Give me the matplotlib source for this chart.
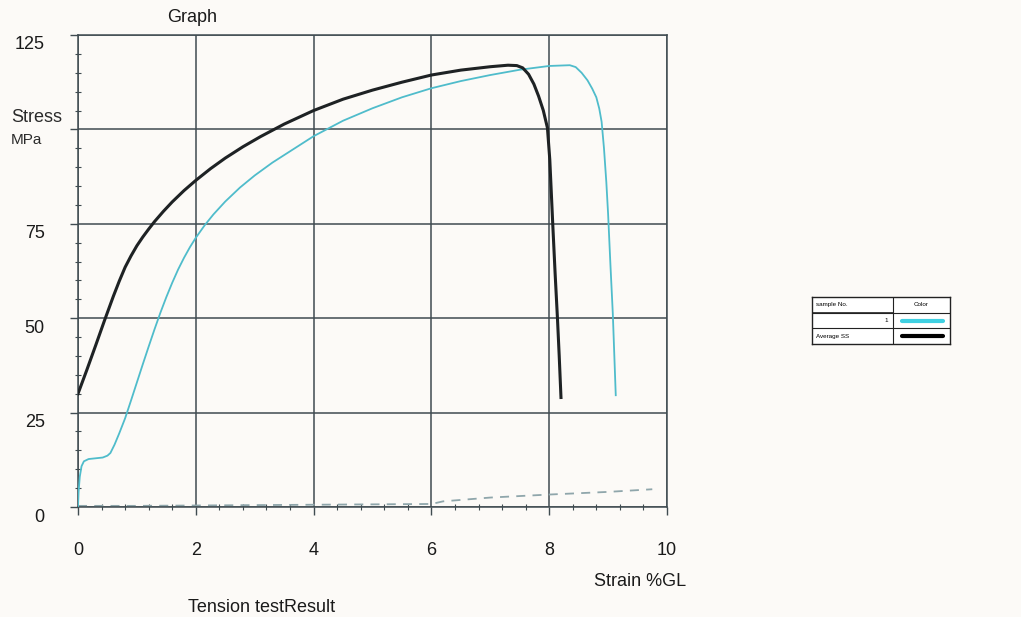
import matplotlib
matplotlib.use("Agg")
import matplotlib.pyplot as plt
from matplotlib.transforms import ScaledTranslation
import numpy as np

plt.rcParams['font.family'] = ['Liberation Sans', 'DejaVu Sans']

# ---- data ----
avg_strain = [0, 0.15, 0.3, 0.45, 0.6, 0.7, 0.8, 0.9, 1.0, 1.1, 1.2, 1.3, 1.45, 1.6,
              1.8, 2.0, 2.25, 2.5, 2.8, 3.1, 3.5, 4.0, 4.5, 5.0, 5.5, 6.0, 6.5, 7.0,
              7.3, 7.45, 7.55, 7.65, 7.74, 7.82, 7.9, 7.97, 8.01, 8.06, 8.1, 8.14,
              8.17, 8.2]
avg_stress = [30, 36.3, 42.8, 49.4, 55.8, 59.8, 63.5, 66.5, 69.2, 71.5, 73.6, 75.6,
              78.3, 80.8, 83.8, 86.5, 89.6, 92.4, 95.4, 98.1, 101.4, 105.0, 108.0,
              110.4, 112.5, 114.4, 115.7, 116.6, 117.0, 116.9, 116.3, 114.6, 112.0,
              108.8, 105.0, 100.4, 92, 75, 62, 50, 40, 29]

s1_strain = [0, 0.01, 0.03, 0.06, 0.1, 0.18, 0.3, 0.42, 0.5, 0.55, 0.62, 0.7, 0.8,
             0.9, 1.0, 1.1, 1.2, 1.3, 1.4, 1.5, 1.6, 1.7, 1.8, 1.9, 2.0, 2.15, 2.3,
             2.5, 2.75, 3.0, 3.3, 3.6, 4.0, 4.5, 5.0, 5.5, 6.0, 6.5, 7.0, 7.5, 8.0,
             8.35, 8.45, 8.55, 8.65, 8.73, 8.8, 8.85, 8.89, 8.93, 8.97, 9.0, 9.04,
             9.08, 9.13]
s1_stress = [0, 4, 8, 10.8, 12.1, 12.7, 12.9, 13.1, 13.6, 14.3, 16.5, 19.5, 23.5,
             28.2, 33.0, 37.8, 42.5, 47.1, 51.5, 55.6, 59.4, 62.9, 66.0, 68.8, 71.3,
             74.6, 77.5, 80.9, 84.6, 87.8, 91.2, 94.2, 98.2, 102.3, 105.6, 108.5,
             110.9, 112.8, 114.4, 115.8, 116.8, 117.0, 116.5, 115.0, 113.0, 110.8,
             108.5, 105.5, 102, 95, 86, 77.6, 64, 51.2, 29.6]

base_strain = [0, 1, 2, 3, 4, 5, 6.0, 6.2, 7.0, 8.0, 9.0, 9.75]
base_stress = [0.3, 0.3, 0.4, 0.5, 0.6, 0.7, 0.8, 1.5, 2.5, 3.3, 4.0, 4.7]

x_ticks = [0, 2, 4, 6, 8, 10]
x_labels = ['0', '2', '4', '6', '8', '10']
y_ticks = [0, 25, 50, 75, 100, 125]
y_labels = ['0', '25', '50', '75', '', '125']

legend_rows = [('sample No.', 'Color'), ('1', None), ('Average SS', None)]

# ---- style ----
BG = '#fcfaf7'
GRID = '#3f4b50'
CYAN = '#4fbccb'
BLACK = '#1e2224'
DASH = '#8fa6ab'

W, H = 1021, 617
fig = plt.figure(figsize=(W / 100, H / 100), dpi=100, facecolor=BG)

L, R, T, B = 78, 667, 35, 507
ax = fig.add_axes([L / W, 1 - B / H, (R - L) / W, (B - T) / H], facecolor=BG)

ax.plot(base_strain, base_stress, color=DASH, lw=1.3, ls=(0, (5, 4)), zorder=2)
ax.plot(s1_strain, s1_stress, color=CYAN, lw=1.3, zorder=3,
        solid_joinstyle='round')
ax.plot(avg_strain, avg_stress, color=BLACK, lw=2.2, zorder=4,
        solid_joinstyle='round')

ax.set_xlim(0, 10)
ax.set_ylim(0, 125)
ax.set_xticks(x_ticks)
ax.set_xticklabels(x_labels)
ax.set_yticks(y_ticks)
ax.set_yticklabels(y_labels)
ax.set_xticks(np.arange(0, 10.01, 0.4), minor=True)
ax.set_yticks(np.arange(0, 125.01, 5), minor=True)

ax.grid(True, which='major', color=GRID, lw=1.1)
for s in ax.spines.values():
    s.set_color(GRID)
    s.set_linewidth(1.1)

ax.tick_params(axis='both', which='major', direction='out', length=6, width=1.0,
               color=GRID, labelsize=13, labelcolor='#1a1a1a')
ax.tick_params(axis='y', which='major', pad=18)
ax.tick_params(axis='x', which='major', pad=19)
ax.tick_params(axis='both', which='minor', direction='inout', length=4, width=0.8,
               color=GRID)

off = ScaledTranslation(0, -8 / 72 * 0.72, fig.dpi_scale_trans)
for lab in ax.get_yticklabels():
    lab.set_transform(lab.get_transform() + off)

# ---- texts ----
fig.text(192 / W, 1 - 17 / H, 'Graph', ha='center', va='center', fontsize=13, color='#1a1a1a')
fig.text(11 / W, 1 - 117 / H, 'Stress', ha='left', va='center', fontsize=13, color='#2a2a2a')
fig.text(11 / W, 1 - 140 / H, 'MPa', ha='left', va='center', fontsize=11, color='#2a2a2a')
fig.text(640 / W, 1 - 581 / H, 'Strain %GL', ha='center', va='center', fontsize=13, color='#1a1a1a')
fig.text(262 / W, 1 - 607 / H, 'Tension testResult', ha='center', va='center', fontsize=13,
         color='#1a1a1a')

# ---- legend table ----
lx0, lx1, ly0, ly1 = 812, 950, 297, 344
lax = fig.add_axes([lx0 / W, 1 - ly1 / H, (lx1 - lx0) / W, (ly1 - ly0) / H], facecolor='white')
lax.set_xlim(0, 1)
lax.set_ylim(0, 3)
lax.set_xticks([])
lax.set_yticks([])
for s in lax.spines.values():
    s.set_color('#222222')
    s.set_linewidth(1.0)
lax.axhline(1, color='#222222', lw=0.8)
lax.axhline(2, color='#222222', lw=0.8)
lax.axvline(0.587, color='#222222', lw=0.8)
lax.axhline(2.0, xmin=0, xmax=0.587, color='#222222', lw=1.2)
lax.text(0.03, 2.5, legend_rows[0][0], ha='left', va='center', fontsize=4.5)
lax.text(0.79, 2.5, legend_rows[0][1], ha='center', va='center', fontsize=4.5)
lax.text(0.55, 1.5, legend_rows[1][0], ha='right', va='center', fontsize=4.5)
lax.text(0.03, 0.5, legend_rows[2][0], ha='left', va='center', fontsize=4.5)
lax.plot([0.65, 0.95], [1.5, 1.5], color='#3fd0e2', lw=3.0, solid_capstyle='round')
lax.plot([0.65, 0.95], [0.5, 0.5], color='black', lw=3.0, solid_capstyle='round')

fig.savefig('out.png', dpi=100, facecolor=BG)
